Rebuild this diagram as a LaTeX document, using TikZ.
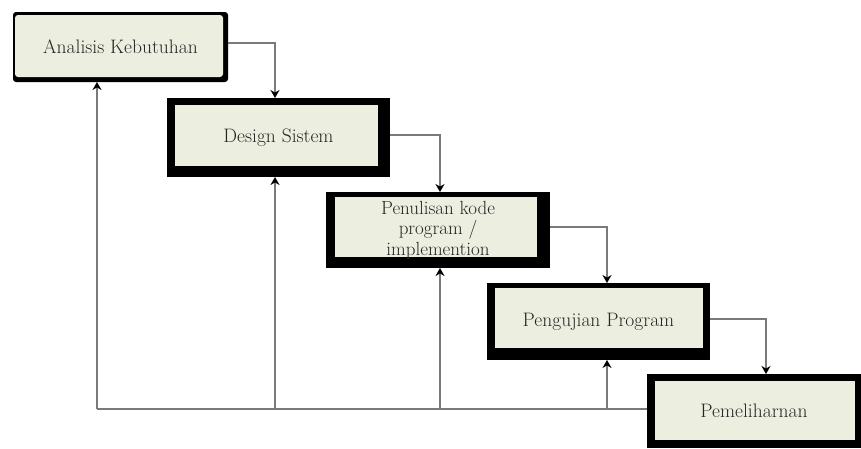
\documentclass[tikz,border=0pt]{standalone}
\usetikzlibrary{arrows.meta}
\definecolor{boxfill}{HTML}{ECEEDF}
\definecolor{txt}{HTML}{262626}
\definecolor{linec}{HTML}{7A7A7A}
\tikzset{
  frame/.style n args={4}{fill=black, inner sep=0pt, outer sep=0pt,
    text=txt, font=\fontsize{19.5}{20}\selectfont, align=center,
    path picture={\fill[boxfill] ([xshift=#1,yshift=-#2]path picture bounding box.north west)
      rectangle ([xshift=-#3,yshift=#4]path picture bounding box.south east);}},
  conn/.style={draw=linec, line width=1.4pt},
  tip/.style={-{Stealth[length=8pt,width=9pt,black]}}
}
\begin{document}
\begin{tikzpicture}[x=1pt,y=-1pt]
\useasboundingbox (0,0) rectangle (861,448);
% boxes (outer frames)
\node[frame={2pt}{3pt}{5pt}{5pt}, rounded corners=3pt, minimum width=215pt, minimum height=70pt] (f1) at (120.5,47) {Analisis Kebutuhan};
\node[frame={8pt}{7pt}{12pt}{11pt}, minimum width=223pt, minimum height=79pt] (f2) at (278.5,137.5) {Design Sistem};
\node[frame={9pt}{5pt}{13pt}{11pt}, minimum width=224pt, minimum height=76pt, font=\fontsize{19}{20.5}\selectfont] (f3) at (438,230) {Penulisan kode\\program /\\implemention};
\node[frame={8pt}{5pt}{7pt}{12pt}, minimum width=223pt, minimum height=77pt] (f4) at (598.5,321.5) {Pengujian Program};
\node[frame={8pt}{7pt}{6pt}{8pt}, minimum width=214pt, minimum height=74pt] (f5) at (754,411) {Pemeliharnan};
% forward connectors
\draw[conn,tip] ([yshift=4pt]f1.east) -| ([xshift=-3.5pt]f2.north);
\draw[conn,tip] ([yshift=2.5pt]f2.east) -| ([xshift=2pt]f3.north);
\draw[conn,tip] ([yshift=3pt]f3.east) -| ([xshift=8.5pt]f4.north);
\draw[conn,tip] ([yshift=2.5pt]f4.east) -| ([xshift=12pt]f5.north);
% feedback
\coordinate (c1) at (97,409);
\coordinate (c2) at (275,409);
\coordinate (c3) at (440,409);
\coordinate (c4) at (607,409);
\draw[conn] (f5.west |- c1) -- (c1);
\draw[conn,tip] (c1) -- (c1 |- f1.south);
\draw[conn,tip] (c2) -- (c2 |- f2.south);
\draw[conn,tip] (c3) -- (c3 |- f3.south);
\draw[conn,tip] (c4) -- (c4 |- f4.south);
\end{tikzpicture}
\end{document}
